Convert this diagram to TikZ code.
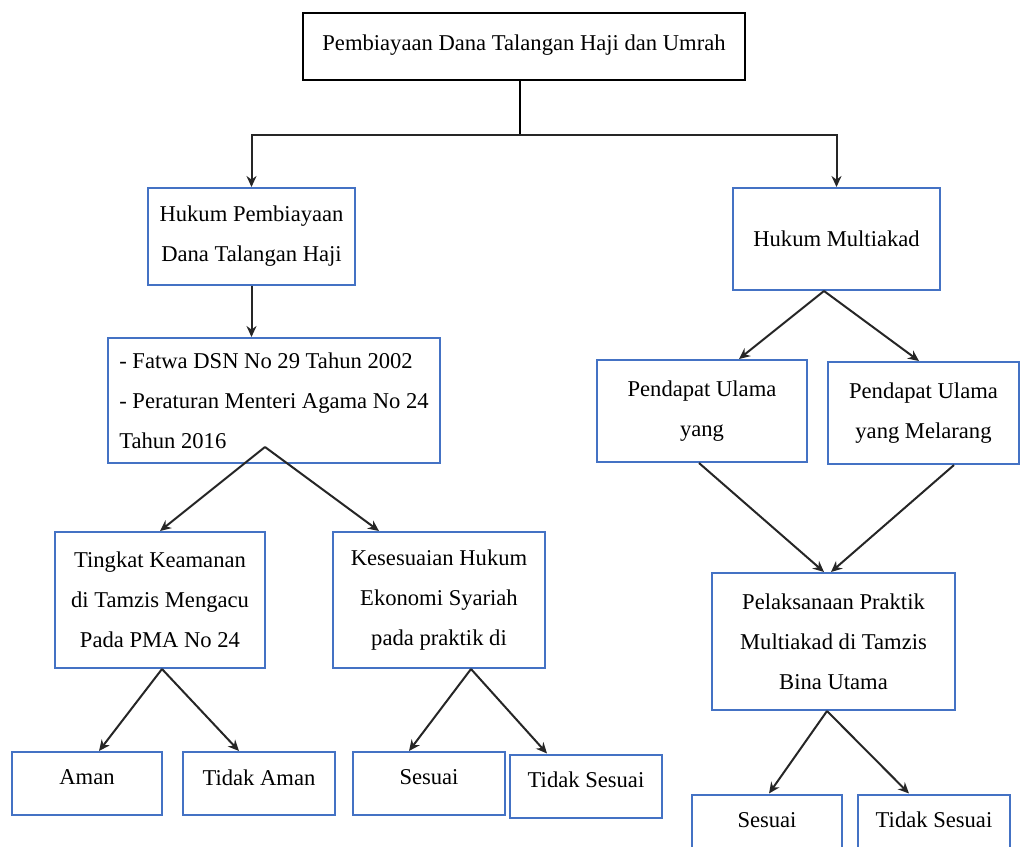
\documentclass[tikz,border=0pt]{standalone}
\usepackage{fontspec}
\setmainfont{Liberation Serif}
\usetikzlibrary{arrows.meta,calc}

\definecolor{boxblue}{RGB}{68,114,196}

\begin{document}
\begin{tikzpicture}[
    x=0.5pt, y=-0.5pt,
    box/.style={
      rectangle,
      draw=boxblue,
      line width=1pt,
      inner sep=0pt,
      align=center,
      font=\fontsize{11.3}{20}\selectfont
    },
    topbox/.style={
      box,
      draw=black,
      text depth=4pt
    },
    smallbox/.style={
      box,
      minimum height=31.5pt,
      text depth=6pt
    },
    link/.style={
      draw=black!85,
      line width=1pt,
      -{Stealth[length=5.5pt,width=5pt]}
    }
  ]

    \useasboundingbox (0,0) rectangle (1021,846);

    % Top level
    \node[topbox, minimum width=221pt, minimum height=33.5pt] (top) at (524,46.5) {Pembiayaan Dana Talangan Haji dan Umrah};

    % Second level
    \node[box, minimum width=103.5pt, minimum height=48.5pt] (hukum) at (251.5,236.5) {Hukum Pembiayaan\\Dana Talangan Haji};
    \node[box, minimum width=103.5pt, minimum height=51pt] (multi) at (836.5,239) {Hukum Multiakad};

    % Left branch
    \node[box, minimum width=166pt, minimum height=62.5pt, align=left] (fatwa) at (274,400.5) {- Fatwa DSN No 29 Tahun 2002\\- Peraturan Menteri Agama No 24\\Tahun 2016};
    \node[box, minimum width=105pt, minimum height=68pt] (tingkat) at (160,600) {Tingkat Keamanan\\di Tamzis Mengacu\\Pada PMA No 24};
    \node[box, minimum width=106pt, minimum height=68pt] (kes) at (439,600) {Kesesuaian Hukum\\Ekonomi Syariah\\pada praktik di};
    \node[smallbox, minimum width=75pt] (aman) at (87,783.5) {Aman};
    \node[smallbox, minimum width=76pt] (tidakaman) at (259,783.5) {Tidak Aman};
    \node[smallbox, minimum width=76pt] (sesuaiA) at (429,783.5) {Sesuai};
    \node[smallbox, minimum width=76pt] (tidaksesuaiA) at (586,786) {Tidak Sesuai};

    % Right branch
    \node[box, minimum width=105pt, minimum height=51pt] (ulamaA) at (702,411) {Pendapat Ulama\\yang};
    \node[box, minimum width=95.5pt, minimum height=51pt] (ulamaB) at (923.5,413) {Pendapat Ulama\\yang Melarang};
    \node[box, minimum width=121.5pt, minimum height=68.5pt] (praktik) at (833.5,641.5) {Pelaksanaan Praktik\\Multiakad di Tamzis\\Bina Utama};
    \node[smallbox, minimum width=75pt] (sesuaiB) at (767,826) {Sesuai};
    \node[smallbox, minimum width=76pt] (tidaksesuaiB) at (934,826) {Tidak Sesuai};

    % Connectors
    \coordinate (split) at (520,135);
    \draw[line width=1pt] (top.south -| split) -- (split);
    \draw[link] (split) -| (hukum.north);
    \draw[link] (split) -| (multi.north);

    \draw[link] (hukum.south) -- (hukum.south |- fatwa.north);

    \coordinate (fatwatip) at (265,447);
    \draw[link] (fatwatip) -- (tingkat.north);
    \draw[link] (fatwatip) -- ($(kes.north west)+(47,0)$);

    \coordinate (tingkatfoot) at ($(tingkat.south west)+(108,0)$);
    \draw[link] (tingkatfoot) -- ($(aman.north west)+(88,0)$);
    \draw[link] (tingkatfoot) -- ($(tidakaman.north west)+(57,0)$);

    \coordinate (kesfoot) at ($(kes.south west)+(139,0)$);
    \draw[link] (kesfoot) -- ($(sesuaiA.north west)+(57,0)$);
    \draw[link] (kesfoot) -- ($(tidaksesuaiA.north west)+(38,0)$);

    \coordinate (multifoot) at ($(multi.south west)+(92,0)$);
    \draw[link] (multifoot) -- ($(ulamaA.north west)+(143,0)$);
    \draw[link] (multifoot) -- ($(ulamaB.north west)+(92,0)$);

    \draw[link] ($(ulamaA.south west)+(103,0)$) -- ($(praktik.north west)+(113,0)$);
    \draw[link] ($(ulamaB.south west)+(127,0)$) -- ($(praktik.north west)+(120,0)$);

    \coordinate (praktikfoot) at ($(praktik.south west)+(116,0)$);
    \draw[link] (praktikfoot) -- ($(sesuaiB.north west)+(78,0)$);
    \draw[link] (praktikfoot) -- ($(tidaksesuaiB.north west)+(52,0)$);

  \end{tikzpicture}
\end{document}
